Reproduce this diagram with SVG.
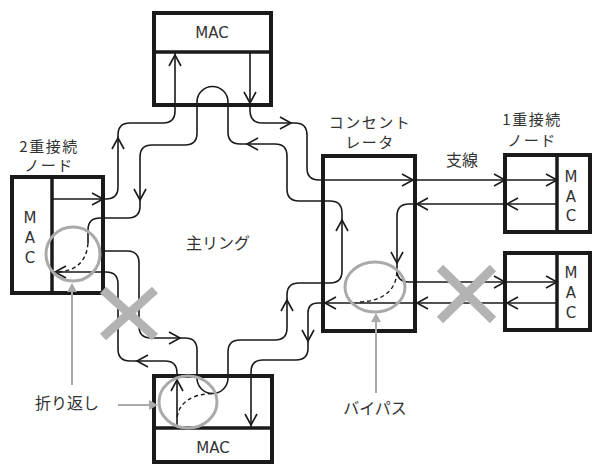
<svg xmlns="http://www.w3.org/2000/svg" xmlns:xlink="http://www.w3.org/1999/xlink" width="593" height="466" viewBox="0 0 593 466">
<style>
.box{fill:#fff;stroke:#1a1a1a;stroke-width:4}
.div{stroke:#1a1a1a;stroke-width:3.5;fill:none}
.ln{fill:none;stroke:#1a1a1a;stroke-width:1.6}
.dash{fill:none;stroke:#1a1a1a;stroke-width:1.4;stroke-dasharray:4 3}
.mac{font-family:"DejaVu Sans","Liberation Sans",sans-serif;font-size:15px;fill:#333;text-anchor:middle}
.jp{font-family:"Noto Sans CJK JP",sans-serif;font-size:16px;fill:#333;text-anchor:middle}
.lbl{font-family:"Noto Sans CJK JP",sans-serif;font-size:15px;letter-spacing:1.5px;fill:#333;text-anchor:middle}
.gray{fill:none;stroke:#aaa;stroke-width:3}
.x{stroke:#b3b3b3;stroke-width:9;fill:none}
.ptr{stroke:#aaa;stroke-width:2;fill:none}
.ptrh{fill:#aaa}
</style>
<defs>
<path id="ah" d="M-11,-6 L0,0 L-11,6" fill="none" stroke="#1a1a1a" stroke-width="1.6"/>
</defs>

<g id="node-top">
<rect class="box" x="154" y="13" width="117" height="92"/>
<line class="div" x1="154" y1="52" x2="271" y2="52"/>
<text class="mac" x="212" y="38">MAC</text>
</g>
<g id="node-bottom">
<rect class="box" x="154" y="376" width="118" height="86"/>
<line class="div" x1="154" y1="428" x2="272" y2="428"/>
<text class="mac" x="213" y="453">MAC</text>
</g>
<g id="node-left">
<rect class="box" x="12" y="177" width="91" height="116"/>
<line class="div" x1="52" y1="177" x2="52" y2="293"/>
<text class="mac" x="30" y="223">M</text>
<text class="mac" x="30" y="243">A</text>
<text class="mac" x="30" y="263">C</text>
<text class="lbl" x="49" y="152">2重接続</text>
<text class="lbl" x="49" y="171">ノード</text>
</g>
<g id="concentrator">
<rect class="box" x="323" y="156" width="92" height="175"/>
<text class="lbl" x="370" y="128">コンセント</text>
<text class="lbl" x="370" y="148">レータ</text>
</g>
<g id="node-right1">
<rect class="box" x="505" y="155" width="85" height="77"/>
<line class="div" x1="557" y1="155" x2="557" y2="232"/>
<text class="mac" x="571" y="182">M</text>
<text class="mac" x="571" y="202">A</text>
<text class="mac" x="571" y="221">C</text>
<text class="lbl" x="532" y="125">1重接続</text>
<text class="lbl" x="532" y="146">ノード</text>
</g>
<g id="node-right2">
<rect class="box" x="505" y="253" width="85" height="77"/>
<line class="div" x1="557" y1="253" x2="557" y2="330"/>
<text class="mac" x="571" y="278">M</text>
<text class="mac" x="571" y="298">A</text>
<text class="mac" x="571" y="318">C</text>
</g>

<g id="connectors">
<path class="ln" d="M52 199 H106 Q118 199 118 187 V135 Q118 123 130 123 H163 Q175 123 175 111 V52"/>
<path class="ln" d="M250 52 V110 Q250 123 262 123 H295 Q307 123 307 135 V168 Q307 180 319 180 H557"/>
<path class="ln" d="M557 204 H409 Q397 204 397 216 V270 Q397 282 409 282 H557"/>
<path class="ln" d="M557 303 H318 Q308 303 308 313 V348 Q308 360 296 360 H263 Q251 360 251 372 V428"/>
<path class="ln" d="M177 428 V373 Q177 361 165 361 H130 Q118 361 118 349 V284 Q118 272 106 272 H52"/>
<path class="ln" d="M103 251 H127 Q139 251 139 263 V326 Q139 338 151 338 H185 Q197 338 197 350 V378 A15.5 15.5 0 0 0 228 378 V352 Q228 340 240 340 H275 Q287 340 287 328 V295 Q287 283 299 283 H330 Q342 283 342 271 V213 Q342 201 330 201 H299 Q287 201 287 189 V156 Q287 144 275 144 H240 Q228 144 228 132 V102 A15.5 15.5 0 0 0 197 102 V133 Q197 145 185 145 H152 Q140 145 140 157 V206 Q140 218 128 218 H100 Q88 218 88 230 V243"/>
<path class="dash" d="M88 243 Q86 270 58 272"/>
<path class="dash" d="M212 393.5 Q180 395 177 418"/>
<path class="dash" d="M397 272 Q395 300 360 302"/>
<use href="#ah" transform="translate(103,199)"/>
<use href="#ah" transform="translate(118,138) rotate(-90)"/>
<use href="#ah" transform="translate(175,55) rotate(-90)"/>
<use href="#ah" transform="translate(250,103) rotate(90)"/>
<use href="#ah" transform="translate(291,123)"/>
<use href="#ah" transform="translate(413,180)"/>
<use href="#ah" transform="translate(505,180)"/>
<use href="#ah" transform="translate(557,180)"/>
<use href="#ah" transform="translate(507,204) rotate(180)"/>
<use href="#ah" transform="translate(417,204) rotate(180)"/>
<use href="#ah" transform="translate(397,263) rotate(90)"/>
<use href="#ah" transform="translate(505,282)"/>
<use href="#ah" transform="translate(557,282)"/>
<use href="#ah" transform="translate(507,303) rotate(180)"/>
<use href="#ah" transform="translate(417,303) rotate(180)"/>
<use href="#ah" transform="translate(325,303) rotate(180)"/>
<use href="#ah" transform="translate(308,341) rotate(90)"/>
<use href="#ah" transform="translate(251,425) rotate(90)"/>
<use href="#ah" transform="translate(177,380) rotate(-90)"/>
<use href="#ah" transform="translate(137,361) rotate(180)"/>
<use href="#ah" transform="translate(55,272) rotate(180)"/>
<use href="#ah" transform="translate(180,338)"/>
<use href="#ah" transform="translate(287,300) rotate(-90)"/>
<use href="#ah" transform="translate(342,220) rotate(-90)"/>
<use href="#ah" transform="translate(247,144) rotate(180)"/>
<use href="#ah" transform="translate(140,200) rotate(90)"/>
</g>

<g id="annotations">
<path class="x" d="M103 290 L155 337 M155 290 L103 337"/>
<path class="x" d="M440 268 L493 320 M493 268 L440 320"/>
<ellipse class="gray" cx="73" cy="254" rx="27" ry="27"/>
<ellipse class="gray" cx="188" cy="402" rx="29" ry="26"/>
<ellipse class="gray" cx="375" cy="287" rx="30" ry="25"/>
<line class="ptr" x1="72" y1="385" x2="72" y2="290"/>
<path class="ptrh" d="M72 283 L67 292 L77 292 Z"/>
<line class="ptr" x1="118" y1="405" x2="150" y2="405"/>
<path class="ptrh" d="M158 405 L149 400 L149 410 Z"/>
<line class="ptr" x1="376" y1="393" x2="376" y2="320"/>
<path class="ptrh" d="M376 313 L371 322 L381 322 Z"/>
<text class="jp" x="67" y="409">折り返し</text>
<text class="jp" x="375" y="414">バイパス</text>
<text class="jp" x="218" y="249">主リング</text>
<text class="jp" x="462" y="166">支線</text>
</g>
</svg>
